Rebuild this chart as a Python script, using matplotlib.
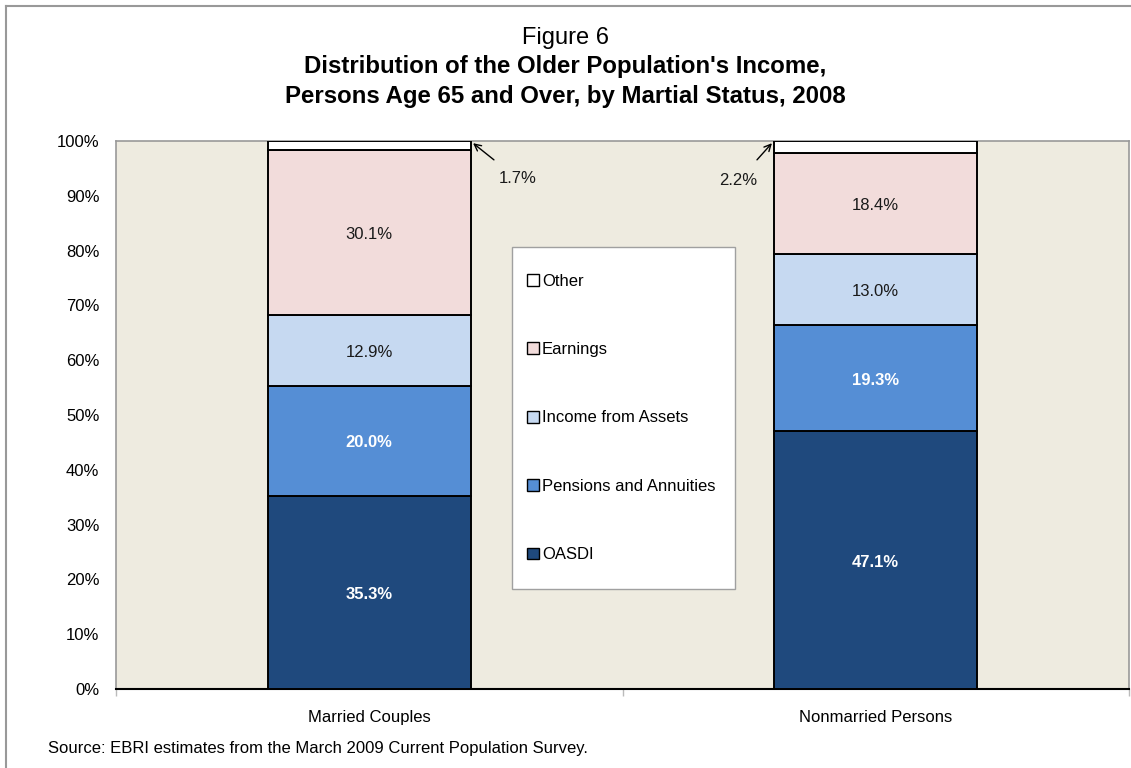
import matplotlib
matplotlib.use("Agg")
import matplotlib.pyplot as plt
from matplotlib.lines import Line2D
from matplotlib.patches import Patch, Rectangle
import numpy as np

plt.rcParams['font.family'] = ['Liberation Sans', 'DejaVu Sans']

categories = ["Married Couples", "Nonmarried Persons"]
series_names = ["OASDI", "Pensions and Annuities", "Income from Assets", "Earnings", "Other"]
oasdi = [35.3, 47.1]
pensions = [20.0, 19.3]
assets = [12.9, 13.0]
earnings = [30.1, 18.4]
other = [1.7, 2.2]
series_values = [oasdi, pensions, assets, earnings, other]
colors = ["#1F497D", "#558ED5", "#C6D9F1", "#F2DCDB", "#FFFFFF"]
label_colors = ["white", "white", "#1a1a1a", "#1a1a1a", None]
label_weights = ["bold", "bold", "normal", "normal", "normal"]
yticks = [0, 10, 20, 30, 40, 50, 60, 70, 80, 90, 100]

W, H = 1131, 768
fig = plt.figure(figsize=(W / 100, H / 100), dpi=100)
L, R, T, B = 116, 1129, 141, 689
ax = fig.add_axes([L / W, 1 - B / H, (R - L) / W, (B - T) / H])
ax.set_facecolor("#EEEBE0")

x = np.arange(len(categories))
bottom = np.zeros(len(categories))
bars_all = []
for vals, col in zip(series_values, colors):
    bars = ax.bar(x, vals, width=0.4, bottom=bottom, color=col,
                  edgecolor="black", linewidth=1.4, zorder=3)
    bars_all.append((bars, bottom.copy(), vals))
    bottom = bottom + np.array(vals)

# data labels
for i, (bars, bot, vals) in enumerate(bars_all):
    if label_colors[i] is None:
        continue
    for j, v in enumerate(vals):
        ax.annotate(f"{v:.1f}%", xy=(x[j], bot[j] + v / 2), xytext=(0, -1.5),
                    textcoords="offset points", ha="center", va="center",
                    color=label_colors[i], fontsize=12, fontweight=label_weights[i], zorder=4)

# "Other" annotations with arrows
ax.annotate(f"{other[0]:.1f}%", xy=(x[0] + 0.205, 99.6), xytext=(x[0] + 0.293, 93.1),
            ha="center", va="center", fontsize=12, color="#1a1a1a",
            arrowprops=dict(arrowstyle="->", color="black", lw=1.0,
                            shrinkA=10, shrinkB=0), zorder=5)
ax.annotate(f"{other[1]:.1f}%", xy=(x[1] - 0.205, 99.6), xytext=(x[1] - 0.271, 92.8),
            ha="center", va="center", fontsize=12, color="#1a1a1a",
            arrowprops=dict(arrowstyle="->", color="black", lw=1.0,
                            shrinkA=10, shrinkB=0), zorder=5)

ax.set_xlim(-0.5, 1.5)
ax.set_ylim(0, 100)
ax.set_yticks(yticks)
ax.set_yticklabels([f"{t}%" for t in yticks], fontsize=12)
ax.tick_params(axis="y", length=0, pad=12)
ax.set_xticks(x)
ax.set_xticklabels(categories, fontsize=12)
ax.tick_params(axis="x", which="major", length=0, pad=15)
ax.set_xticks([-0.5, 0.5, 1.5], minor=True)
ax.tick_params(axis="x", which="minor", length=5, color="#BBBBBB", width=1)

for s in ["left", "top", "right"]:
    ax.spines[s].set_color("#999999")
    ax.spines[s].set_linewidth(1.2)
ax.spines["bottom"].set_color("black")
ax.spines["bottom"].set_linewidth(1.5)

# legend box
lx0, lx1, ly0, ly1 = 512, 735, 247, 589
box = Rectangle(((lx0 - L) / (R - L), 1 - (ly1 - T) / (B - T)),
                (lx1 - lx0) / (R - L), (ly1 - ly0) / (B - T),
                transform=ax.transAxes, facecolor="white", edgecolor="#A0A0A0",
                linewidth=1.0, zorder=6)
ax.add_patch(box)

handles = [Patch(facecolor=colors[k], edgecolor="black", linewidth=1.0, label=series_names[k])
           for k in range(len(series_names) - 1, -1, -1)]
leg = ax.legend(handles=handles, loc="center left",
                bbox_to_anchor=((527 - L) / (R - L), 1 - ((282 + 554) / 2 - T) / (B - T)),
                frameon=False, fontsize=12, labelspacing=3.2,
                handlelength=0.7, handleheight=0.7, handletextpad=0.2,
                borderpad=0, borderaxespad=0)
leg.set_zorder(7)

# titles
fig.text(0.5, 1 - 38 / H, "Figure 6", ha="center", va="center", fontsize=17)
fig.text(0.5, 1 - 67 / H, "Distribution of the Older Population's Income,", ha="center",
         va="center", fontsize=17.3, fontweight="bold")
fig.text(0.5, 1 - 96 / H, "Persons Age 65 and Over, by Martial Status, 2008", ha="center",
         va="center", fontsize=17.3, fontweight="bold")
fig.text(48 / W, 1 - 748 / H, "Source: EBRI estimates from the March 2009 Current Population Survey.",
         ha="left", va="center", fontsize=12)

# outer frame (left and top)
fig.add_artist(Line2D([6 / W, 6 / W], [0, 1 - 6 / H], transform=fig.transFigure,
                      color="#999999", lw=1.5))
fig.add_artist(Line2D([6 / W, 1], [1 - 6 / H, 1 - 6 / H], transform=fig.transFigure,
                      color="#999999", lw=1.5))

fig.savefig("out.png", dpi=100)
